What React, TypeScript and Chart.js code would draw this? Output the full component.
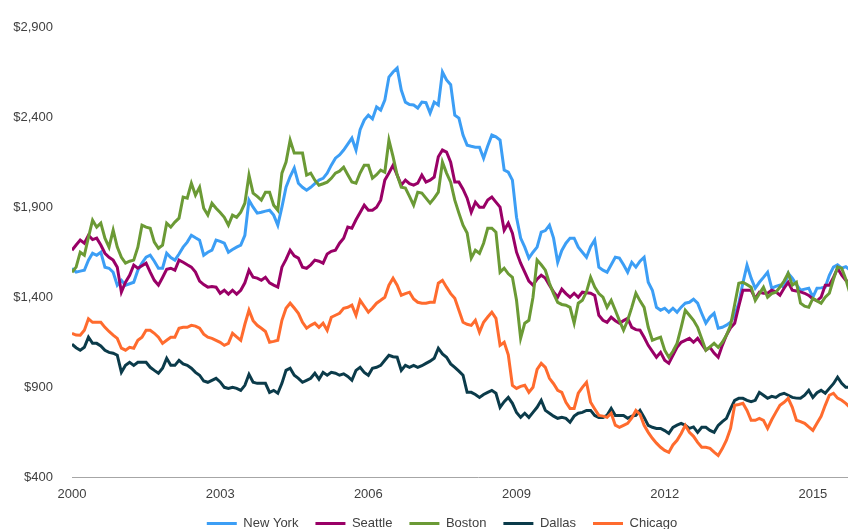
import React, { useEffect, useRef } from 'react';
import { Chart, registerables } from 'chart.js';

Chart.register(...registerables);

const startYear = 2000;
const seriesNames = ['New York', 'Seattle', 'Boston', 'Dallas', 'Chicago'];
const seriesColors = ['#3c9ef5', '#990066', '#6b9a35', '#0b3b4a', '#ff6b2e'];
const xTicks = [2000, 2003, 2006, 2009, 2012, 2015];
const yTicks = [400, 900, 1400, 1900, 2400, 2900];

const newYork = [
  1561,1539,1545,1550,1606,1644,1633,1650,1567,1561,1539,1467,
  1494,1467,1475,1483,1550,1590,1622,1633,1600,1561,1561,1644,
  1620,1606,1640,1678,1706,1744,1730,1717,1633,1650,1661,1717,
  1710,1700,1650,1665,1678,1689,1744,1939,1900,1867,1872,1878,
  1883,1856,1800,1900,2011,2070,2117,2033,2010,1994,2010,2030,
  2050,2060,2089,2133,2172,2190,2217,2250,2283,2217,2330,2383,
  2411,2390,2456,2439,2494,2622,2650,2672,2550,2483,2470,2467,
  2450,2483,2480,2422,2483,2467,2650,2606,2580,2411,2394,2300,
  2244,2238,2233,2233,2172,2240,2300,2290,2272,2106,2094,2050,
  1844,1728,1678,1617,1650,1678,1761,1770,1800,1728,1594,1660,
  1700,1728,1728,1678,1650,1622,1680,1717,1567,1550,1539,1580,
  1622,1617,1580,1539,1594,1567,1600,1622,1483,1439,1344,1328,
  1339,1317,1339,1317,1345,1367,1372,1389,1367,1310,1256,1290,
  1311,1228,1233,1245,1261,1300,1367,1480,1578,1506,1450,1483,
  1510,1539,1450,1460,1467,1456,1533,1506,1470,1439,1445,1450,
  1400,1450,1452,1456,1522,1567,1580,1561,1570,1550,
];

const seattle = [
  1661,1690,1717,1700,1744,1720,1728,1690,1644,1622,1606,1567,
  1428,1483,1522,1578,1561,1575,1589,1539,1494,1467,1510,1555,
  1561,1550,1606,1594,1580,1567,1540,1490,1470,1456,1460,1456,
  1422,1439,1417,1439,1417,1439,1480,1550,1511,1506,1494,1511,
  1480,1467,1456,1567,1610,1661,1630,1617,1567,1561,1580,1606,
  1600,1589,1640,1655,1661,1700,1728,1790,1783,1830,1870,1911,
  1883,1883,1900,1939,2050,2090,2133,2078,2022,2050,2030,2022,
  2033,2078,2039,2050,2067,2180,2217,2206,2150,2039,2039,2000,
  1950,1872,1928,1900,1900,1940,1956,1928,1900,1772,1811,1756,
  1650,1589,1539,1490,1467,1500,1522,1506,1467,1430,1400,1445,
  1420,1400,1422,1400,1428,1425,1422,1410,1300,1272,1261,1289,
  1270,1256,1270,1283,1233,1220,1217,1178,1133,1100,1067,1094,
  1050,1033,1078,1122,1150,1161,1172,1150,1172,1140,1106,1122,
  1090,1067,1133,1189,1230,1256,1350,1439,1439,1439,1394,1428,
  1422,1422,1439,1430,1411,1450,1483,1439,1435,1430,1422,1410,
  1390,1380,1400,1467,1467,1510,1561,1522,1494,1480,
];

const boston = [
  1539,1567,1650,1633,1733,1828,1789,1811,1728,1678,1772,1678,
  1622,1589,1600,1606,1678,1800,1789,1783,1706,1672,1689,1811,
  1789,1817,1839,1956,1950,2033,1967,2011,1894,1856,1922,1894,
  1870,1844,1800,1856,1844,1872,1922,2078,1978,1960,1939,1983,
  1983,1911,1883,2089,2150,2272,2200,2200,2200,2078,2089,2050,
  2022,2030,2039,2060,2089,2100,2122,2080,2040,2033,2090,2133,
  2133,2061,2080,2106,2094,2272,2180,2078,2011,2006,1960,1911,
  1983,1978,1950,1922,1950,1983,2150,2089,2039,1939,1867,1800,
  1756,1617,1661,1644,1700,1783,1783,1761,1539,1561,1530,1511,
  1383,1172,1256,1272,1400,1606,1580,1550,1478,1420,1372,1360,
  1356,1344,1256,1367,1383,1430,1511,1456,1420,1400,1344,1383,
  1328,1270,1217,1272,1344,1422,1380,1344,1233,1161,1170,1178,
  1106,1067,1100,1144,1233,1328,1300,1272,1233,1170,1106,1125,
  1144,1122,1150,1189,1244,1360,1478,1483,1470,1456,1383,1420,
  1456,1400,1420,1428,1456,1490,1533,1467,1483,1367,1350,1344,
  1394,1380,1367,1400,1422,1500,1567,1561,1500,1422,
];

const dallas = [
  1139,1120,1106,1122,1178,1144,1144,1130,1106,1094,1089,1078,
  983,1022,1039,1022,1039,1039,1039,1011,994,978,1006,1061,
  1022,1022,1050,1030,1022,1006,983,967,935,928,939,950,
  930,900,894,900,894,883,911,972,928,922,922,922,
  872,883,867,922,994,1006,967,950,928,939,950,978,
  945,983,967,983,978,967,975,960,939,994,1011,983,
  967,1006,1011,1022,1050,1078,1070,1067,994,1022,1011,1022,
  1011,1020,1033,1045,1061,1117,1085,1067,1030,1011,990,967,
  872,872,860,844,860,872,883,867,789,820,844,811,
  760,733,756,733,761,789,828,772,756,740,728,733,
  728,706,740,756,761,772,772,744,733,733,745,783,
  744,744,744,728,740,744,772,733,689,678,672,672,
  660,644,678,690,700,689,672,680,650,678,678,661,
  650,689,710,728,780,828,839,839,828,820,828,872,
  856,839,850,844,860,867,856,844,840,839,856,883,
  844,870,883,867,894,920,956,922,900,900,
];

const chicago = [
  1200,1190,1189,1217,1280,1261,1261,1261,1233,1210,1190,1172,
  1117,1106,1122,1117,1161,1178,1217,1217,1200,1178,1144,1161,
  1178,1178,1228,1233,1233,1244,1240,1228,1195,1178,1172,1161,
  1150,1133,1144,1200,1180,1161,1250,1328,1270,1244,1228,1210,
  1150,1155,1161,1272,1339,1367,1340,1311,1261,1228,1244,1256,
  1233,1256,1217,1289,1300,1311,1339,1344,1356,1300,1383,1350,
  1317,1340,1367,1383,1400,1467,1506,1467,1411,1420,1428,1390,
  1372,1367,1367,1372,1372,1478,1494,1456,1420,1394,1328,1261,
  1250,1244,1272,1206,1261,1290,1317,1283,1133,1150,1080,911,
  894,905,911,872,900,1000,1033,1011,950,920,883,872,
  817,783,783,867,900,928,817,780,744,740,733,756,
  690,678,689,700,730,772,750,689,650,617,590,567,
  550,539,580,606,644,689,650,628,594,567,567,561,
  540,522,560,606,672,800,805,811,772,717,717,728,
  717,672,720,761,800,817,839,789,717,710,700,680,
  661,700,739,800,856,867,840,828,811,789,
];

const seriesValues = [newYork, seattle, boston, dallas, chicago];

const FONT = { family: '"Liberation Sans", Arial, sans-serif', size: 13 };
const TEXT = '#404040';

export default function App() {
  const ref = useRef<HTMLCanvasElement | null>(null);

  useEffect(() => {
    document.body.style.margin = '0';
    const canvas = ref.current;
    if (!canvas) return;
    const datasets = seriesNames.map((name, i) => ({
      label: name,
      data: seriesValues[i].map((v, m) => ({ x: startYear + m / 12, y: v })),
      borderColor: seriesColors[i],
      backgroundColor: seriesColors[i],
      borderWidth: 3,
      pointRadius: 0,
      tension: 0,
      fill: false,
      order: seriesNames.length - i,
    }));
    const chart = new Chart(canvas, {
      type: 'line',
      data: { datasets },
      options: {
        animation: false,
        responsive: false,
        maintainAspectRatio: false,
        layout: { padding: { top: 27, left: 0, right: 0, bottom: 0 } },
        plugins: {
          tooltip: { enabled: false },
          legend: {
            position: 'bottom',
            labels: {
              boxWidth: 30,
              boxHeight: 3,
              padding: 17,
              color: TEXT,
              font: FONT,
              sort: (a: any, b: any) => a.datasetIndex - b.datasetIndex,
              generateLabels: (c: any) =>
                Chart.defaults.plugins.legend.labels
                  .generateLabels(c)
                  .map((l: any) => ({ ...l, lineWidth: 0, fillStyle: l.strokeStyle })),
            },
          },
        },
        scales: {
          x: {
            type: 'linear',
            min: 2000,
            max: 2016.44,
            afterBuildTicks: (axis: any) => {
              axis.ticks = xTicks.map((v) => ({ value: v }));
            },
            afterFit: (axis: any) => {
              axis.height = axis.height - 11;
            },
            ticks: {
              callback: (v: any) => String(v),
              color: TEXT,
              font: FONT,
              padding: 9,
              maxRotation: 0,
              autoSkip: false,
            },
            grid: { display: false, drawTicks: false },
            border: { display: true, color: '#a6a6a6', width: 1 },
          },
          y: {
            min: 400,
            max: 2900,
            afterBuildTicks: (axis: any) => {
              axis.ticks = yTicks.map((v) => ({ value: v }));
            },
            afterFit: (axis: any) => {
              axis.width = 72;
            },
            ticks: {
              callback: (v: any) => '$' + Number(v).toLocaleString('en-US'),
              color: TEXT,
              font: FONT,
              padding: 19,
            },
            grid: { display: false, drawTicks: false },
            border: { display: false },
          },
        },
      },
    } as any);
    return () => chart.destroy();
  }, []);

  return (
    <div style={{ position: 'fixed', left: 0, top: 0, width: 884, height: 540, overflow: 'hidden' }}>
      <canvas ref={ref} width={884} height={540} />
    </div>
  );
}
